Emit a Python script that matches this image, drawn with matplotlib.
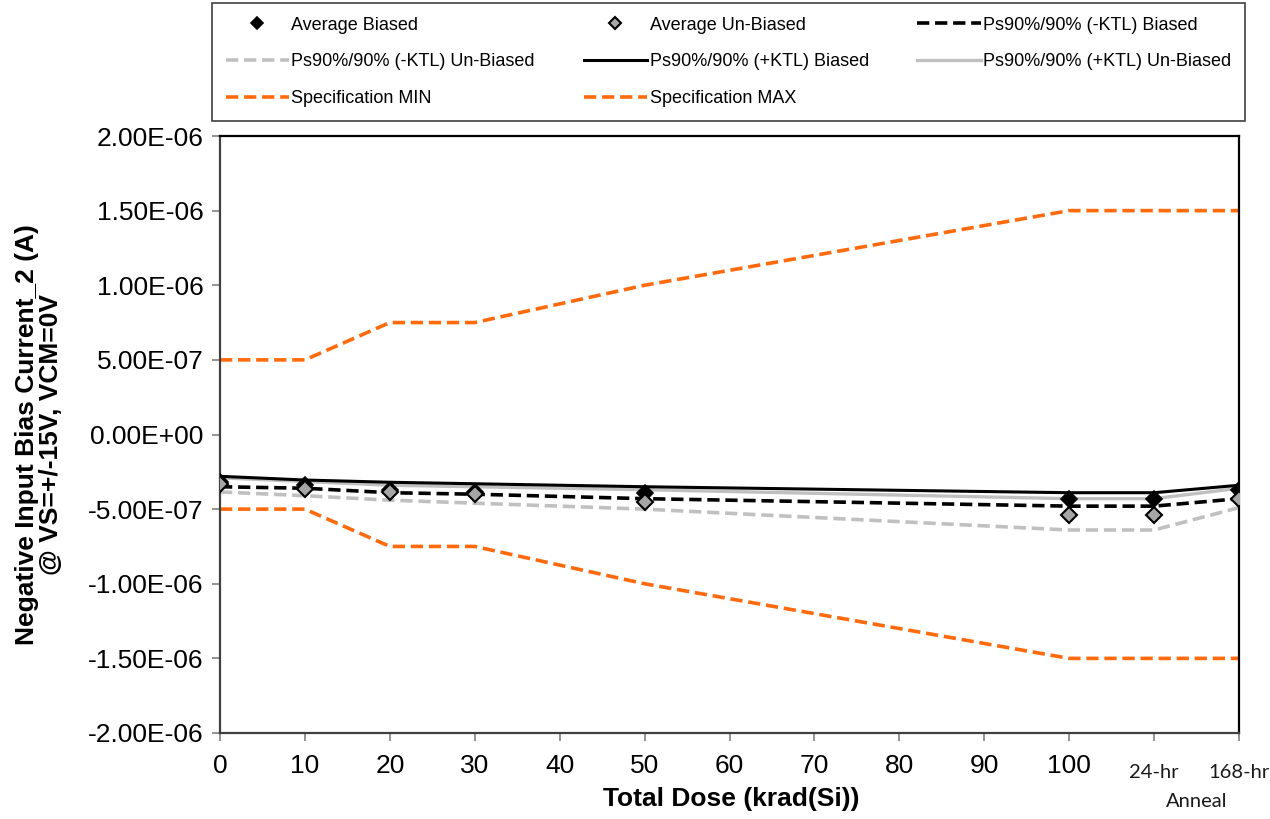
import matplotlib
matplotlib.use("Agg")
import matplotlib.pyplot as plt
import matplotlib.transforms as mtransforms

plt.rcParams['font.family'] = ['Liberation Sans', 'DejaVu Sans']

# Total dose positions (24-hr and 168-hr anneal placed at 110 and 120)
dose = [0, 10, 20, 30, 50, 100, 110, 120]

avg_biased = [-3.2e-7, -3.4e-7, -3.7e-7, -3.85e-7, -3.9e-7, -4.3e-7, -4.3e-7, -3.7e-7]
avg_unbiased = [-3.3e-7, -3.65e-7, -3.85e-7, -4.0e-7, -4.5e-7, -5.4e-7, -5.4e-7, -4.3e-7]
ktl_minus_biased = [-3.5e-7, -3.6e-7, -3.9e-7, -4.0e-7, -4.3e-7, -4.8e-7, -4.8e-7, -4.3e-7]
ktl_minus_unbiased = [-3.85e-7, -4.1e-7, -4.4e-7, -4.6e-7, -5.0e-7, -6.4e-7, -6.4e-7, -4.9e-7]
ktl_plus_biased = [-2.8e-7, -3.05e-7, -3.2e-7, -3.3e-7, -3.5e-7, -3.9e-7, -3.9e-7, -3.4e-7]
ktl_plus_unbiased = [-2.9e-7, -3.15e-7, -3.4e-7, -3.5e-7, -3.7e-7, -4.3e-7, -4.3e-7, -3.6e-7]
spec_min = [-5e-7, -5e-7, -7.5e-7, -7.5e-7, -1e-6, -1.5e-6, -1.5e-6, -1.5e-6]
spec_max = [5e-7, 5e-7, 7.5e-7, 7.5e-7, 1e-6, 1.5e-6, 1.5e-6, 1.5e-6]

x_ticks = list(range(0, 130, 10))
x_ticklabels = ["0", "10", "20", "30", "40", "50", "60", "70", "80", "90", "100", "", ""]
anneal_labels = ["24-hr", "168-hr"]

orange = "#ff6a0d"
lgray = "#c0c0c0"
dash = (3.4, 1.6)

fig = plt.figure(figsize=(12.7, 8.19), dpi=100)
ax = fig.add_axes([220 / 1270, 1 - 733 / 819, (1239 - 220) / 1270, (733 - 136) / 819])

h_smin, = ax.plot(dose, spec_min, color=orange, lw=2.6, dashes=dash, label="Specification MIN")
h_smax, = ax.plot(dose, spec_max, color=orange, lw=2.6, dashes=dash, label="Specification MAX")
h_mub, = ax.plot(dose, ktl_minus_unbiased, color=lgray, lw=2.6, dashes=dash,
                 label="Ps90%/90% (-KTL) Un-Biased")
h_pub, = ax.plot(dose, ktl_plus_unbiased, color=lgray, lw=2.4, label="Ps90%/90% (+KTL) Un-Biased")
h_pb, = ax.plot(dose, ktl_plus_biased, color="black", lw=2.2, label="Ps90%/90% (+KTL) Biased")
h_mb, = ax.plot(dose, ktl_minus_biased, color="black", lw=2.6, dashes=dash,
                label="Ps90%/90% (-KTL) Biased")
h_ab, = ax.plot(dose, avg_biased, ls="none", marker="D", ms=8, mfc="black", mec="black",
                mew=1.2, label="Average Biased", zorder=5)
h_aub, = ax.plot(dose, avg_unbiased, ls="none", marker="D", ms=8, mfc="#a6a6a6", mec="black",
                 mew=1.5, label="Average Un-Biased", zorder=5)

ax.set_xlim(0, 120)
ax.set_ylim(-2e-6, 2e-6)
yt = [i * 5e-7 for i in range(-4, 5)]
ax.set_yticks(yt)
ax.set_yticklabels([f"{v:.2E}" for v in yt], fontsize=19)
ax.set_xticks(x_ticks)
ax.set_xticklabels(x_ticklabels, fontsize=19)
ax.tick_params(axis="both", direction="out", length=6, color="#808080", width=1.2)
ax.tick_params(axis="x", pad=9)
ax.tick_params(axis="y", pad=6)
for s in ax.spines.values():
    s.set_color("black")
    s.set_linewidth(1.6)
ax.spines["left"].set_color("#404040")
ax.spines["bottom"].set_color("#404040")

# Anneal labels under the last two ticks
trans = mtransforms.blended_transform_factory(ax.transData, ax.transAxes)
for xv, lab in zip(dose[-2:], anneal_labels):
    ax.text(xv, -0.066, lab, transform=trans, ha="center", va="center",
            fontsize=14.5, family=["Lato", "DejaVu Sans"], color="#1a1a1a")
ax.text((dose[-2] + dose[-1]) / 2, -0.114, "Anneal", transform=trans, ha="center",
        va="center", fontsize=14.5, family=["Lato", "DejaVu Sans"], color="#1a1a1a")

ax.set_xlabel("Total Dose (krad(Si))", fontsize=19, fontweight="bold")
ax.xaxis.set_label_coords(0.502, -0.090)
ax.set_ylabel("Negative Input Bias Current_2 (A)\n@ VS=+/-15V, VCM=0V", fontsize=19,
              fontweight="bold", linespacing=1.0)
ax.yaxis.set_label_coords(-0.154, 0.5)

# legend laid out row by row like the original
handles = [h_ab, h_mub, h_smin, h_aub, h_pb, h_smax, h_mb, h_pub]
leg = fig.legend(handles=handles, labels=[h.get_label() for h in handles], ncol=3,
                 loc="upper left", bbox_to_anchor=(212 / 1270, 1 - 3 / 819, 1033 / 1270, 0.0),
                 mode="expand", borderaxespad=0, fontsize=13, handlelength=3.5,
                 handletextpad=0.15, labelspacing=1.1, borderpad=0.75, fancybox=False,
                 framealpha=1, markerscale=0.75)
leg.get_frame().set_edgecolor("#404040")
leg.get_frame().set_linewidth(1.2)

fig.savefig("out.png", dpi=100)
